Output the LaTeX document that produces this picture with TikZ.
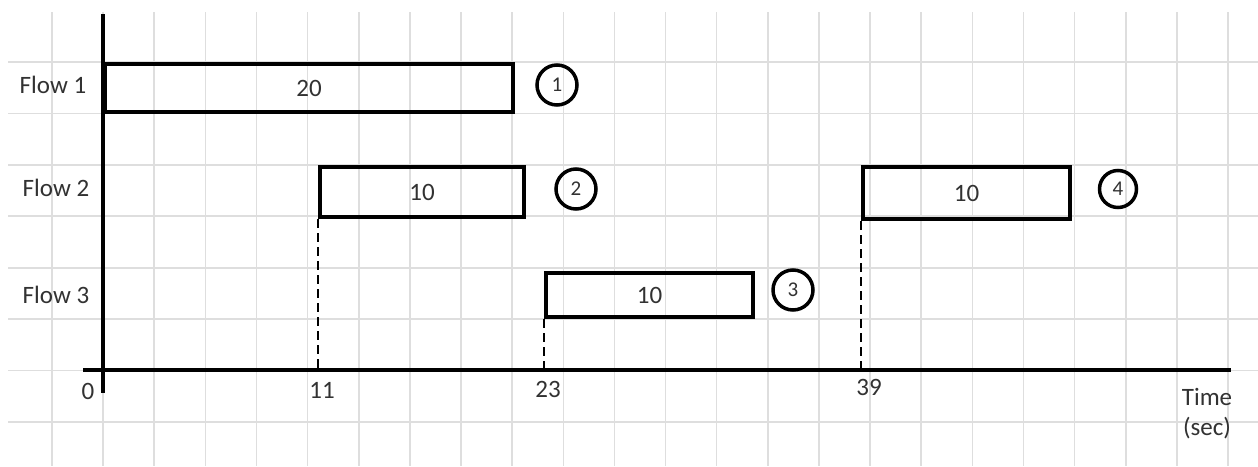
\documentclass[tikz,border=0pt]{standalone}
\usepackage{fontspec}
\setmainfont{Carlito}
\definecolor{gridc}{RGB}{222,222,222}
\definecolor{txt}{RGB}{50,50,50}
\begin{document}
\begin{tikzpicture}[x=1pt,y=-1pt,
  gridline/.style={draw=gridc, line width=1.6pt},
  axisline/.style={draw=black, line width=4.5pt},
  flowbox/.style={draw=black, line width=4pt, rectangle, inner sep=0pt, anchor=north west, font=\fontsize{25}{28}\selectfont, text=txt},
  numcirc/.style={draw=black, line width=3.5pt, circle, inner sep=0pt, minimum size=40pt, font=\fontsize{21}{24}\selectfont, text=txt},
  lbl/.style={font=\fontsize{25}{30}\selectfont, text=txt, inner sep=0pt},
  guide/.style={draw=black, line width=2pt, dash pattern=on 9pt off 5pt}]
\useasboundingbox (0,0) rectangle (1258,466);
\fill[white] (0,0) rectangle (1258,466);
% grid
\foreach \k in {0,...,23} {\draw[gridline] ({52+51.13*\k},12) -- ({52+51.13*\k},466);}
\foreach \k in {0,...,7} {\draw[gridline] (8,{62+51.43*\k}) -- (1258,{62+51.43*\k});}
% axes
\coordinate (ytop) at (103,14);
\coordinate (ybot) at (103,393);
\coordinate (xl) at (83,370);
\coordinate (xr) at (1231,370);
\draw[axisline] (ytop) -- (ybot);
\draw[axisline] (xl) -- (xr);
% boxes
\node[flowbox, minimum width=408pt, minimum height=48pt] (f1) at (103,62) {20};
\node[flowbox, minimum width=204pt, minimum height=50pt] (f2) at (318,165) {10};
\node[flowbox, minimum width=207pt, minimum height=44pt] (f3) at (544,271) {10};
\node[flowbox, minimum width=207pt, minimum height=52pt] (f4) at (861,165) {10};
% circles
\node[numcirc] (c1) at (557,85) {1};
\node[numcirc] (c2) at (576,189) {2};
\node[numcirc] (c3) at (793,290) {3};
\node[numcirc, minimum size=37pt] (c4) at (1118,189) {4};
% dashed guides
\draw[guide] (f2.south west) -- (f2.south west |- xl);
\draw[guide] (f3.south west) -- (f3.south west |- xl);
\draw[guide] (f4.south west) -- (f4.south west |- xl);
% labels
\node[lbl] (l1) at (53,85) {Flow 1};
\node[lbl] (l2) at (56,188) {Flow 2};
\node[lbl] (l3) at (56,295) {Flow 3};
\node[lbl] (t0) at (88,391) {0};
\node[lbl] (t11) at (322,390) {11};
\node[lbl] (t23) at (548,389) {23};
\node[lbl] (t39) at (869,387) {39};
\node[lbl, align=center] (tt) at (1207,414) {Time\\(sec)};
\end{tikzpicture}
\end{document}
